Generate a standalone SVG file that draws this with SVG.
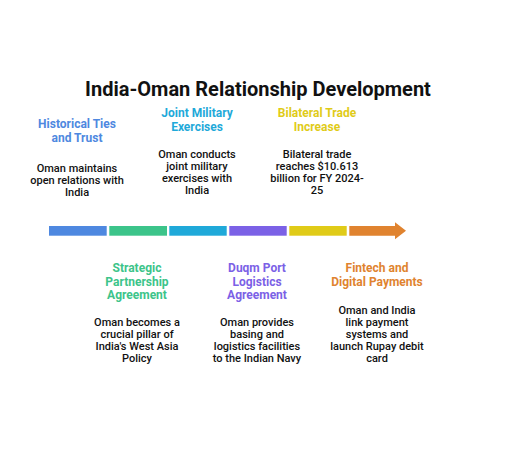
<svg xmlns="http://www.w3.org/2000/svg" width="516" height="450" viewBox="0 0 516 450">
<style>
text{font-family:Roboto,"Liberation Sans",sans-serif;text-anchor:middle}
.title{font-size:20px;font-weight:700;fill:#111}
.lab{font-size:12px;font-weight:700}
.desc{font-size:11px;font-weight:500;fill:#111}
</style>
<rect width="516" height="450" fill="#fff"/>
<text class="title" x="258" y="96">India-Oman Relationship Development</text>
<g id="connectors">
<rect x="49" y="226" width="57.7" height="9.7" fill="#4e88e0"/>
<rect x="109.3" y="226" width="57.7" height="9.7" fill="#3cc48a"/>
<rect x="169.3" y="226" width="57.4" height="9.7" fill="#1fa9d9"/>
<rect x="229.3" y="226" width="57.4" height="9.7" fill="#7b61e6"/>
<rect x="289.3" y="226" width="57.4" height="9.7" fill="#e0cb18"/>
<path d="M349.3 226H395V222.3L406 230.8L395 239.3V235.7H349.3Z" fill="#e0832f"/>
</g>
<g id="n1">
<text class="lab" fill="#4e88e0"><tspan x="77" y="128">Historical Ties</tspan><tspan x="77" y="142">and Trust</tspan></text>
<text class="desc"><tspan x="77" y="172">Oman maintains</tspan><tspan x="77" y="184">open relations with</tspan><tspan x="77" y="196">India</tspan></text>
</g>
<g id="n2">
<text class="lab" fill="#3cc48a"><tspan x="137" y="272">Strategic</tspan><tspan x="137" y="285.7">Partnership</tspan><tspan x="137" y="299.4">Agreement</tspan></text>
<text class="desc"><tspan x="137" y="325.5">Oman becomes a</tspan><tspan x="137" y="337.5">crucial pillar of</tspan><tspan x="137" y="349.5">India's West Asia</tspan><tspan x="137" y="361.5">Policy</tspan></text>
</g>
<g id="n3">
<text class="lab" fill="#1fa9d9"><tspan x="197" y="117">Joint Military</tspan><tspan x="197" y="131">Exercises</tspan></text>
<text class="desc"><tspan x="197" y="158.3">Oman conducts</tspan><tspan x="197" y="170.3">joint military</tspan><tspan x="197" y="182.3">exercises with</tspan><tspan x="197" y="194.3">India</tspan></text>
</g>
<g id="n4">
<text class="lab" fill="#7b61e6"><tspan x="257" y="272">Duqm Port</tspan><tspan x="257" y="285.7">Logistics</tspan><tspan x="257" y="299.4">Agreement</tspan></text>
<text class="desc"><tspan x="257" y="325.5">Oman provides</tspan><tspan x="257" y="337.5">basing and</tspan><tspan x="257" y="349.5">logistics facilities</tspan><tspan x="257" y="361.5">to the Indian Navy</tspan></text>
</g>
<g id="n5">
<text class="lab" fill="#e0cb18"><tspan x="317" y="117">Bilateral Trade</tspan><tspan x="317" y="131">Increase</tspan></text>
<text class="desc"><tspan x="317" y="158.3">Bilateral trade</tspan><tspan x="317" y="170.3">reaches $10.613</tspan><tspan x="317" y="182.3">billion for FY 2024-</tspan><tspan x="317" y="194.3">25</tspan></text>
</g>
<g id="n6">
<text class="lab" fill="#e0832f"><tspan x="377" y="272.3">Fintech and</tspan><tspan x="377" y="286">Digital Payments</tspan></text>
<text class="desc"><tspan x="377" y="314.3">Oman and India</tspan><tspan x="377" y="326.3">link payment</tspan><tspan x="377" y="338.3">systems and</tspan><tspan x="377" y="350.3">launch Rupay debit</tspan><tspan x="377" y="362.3">card</tspan></text>
</g>
</svg>
